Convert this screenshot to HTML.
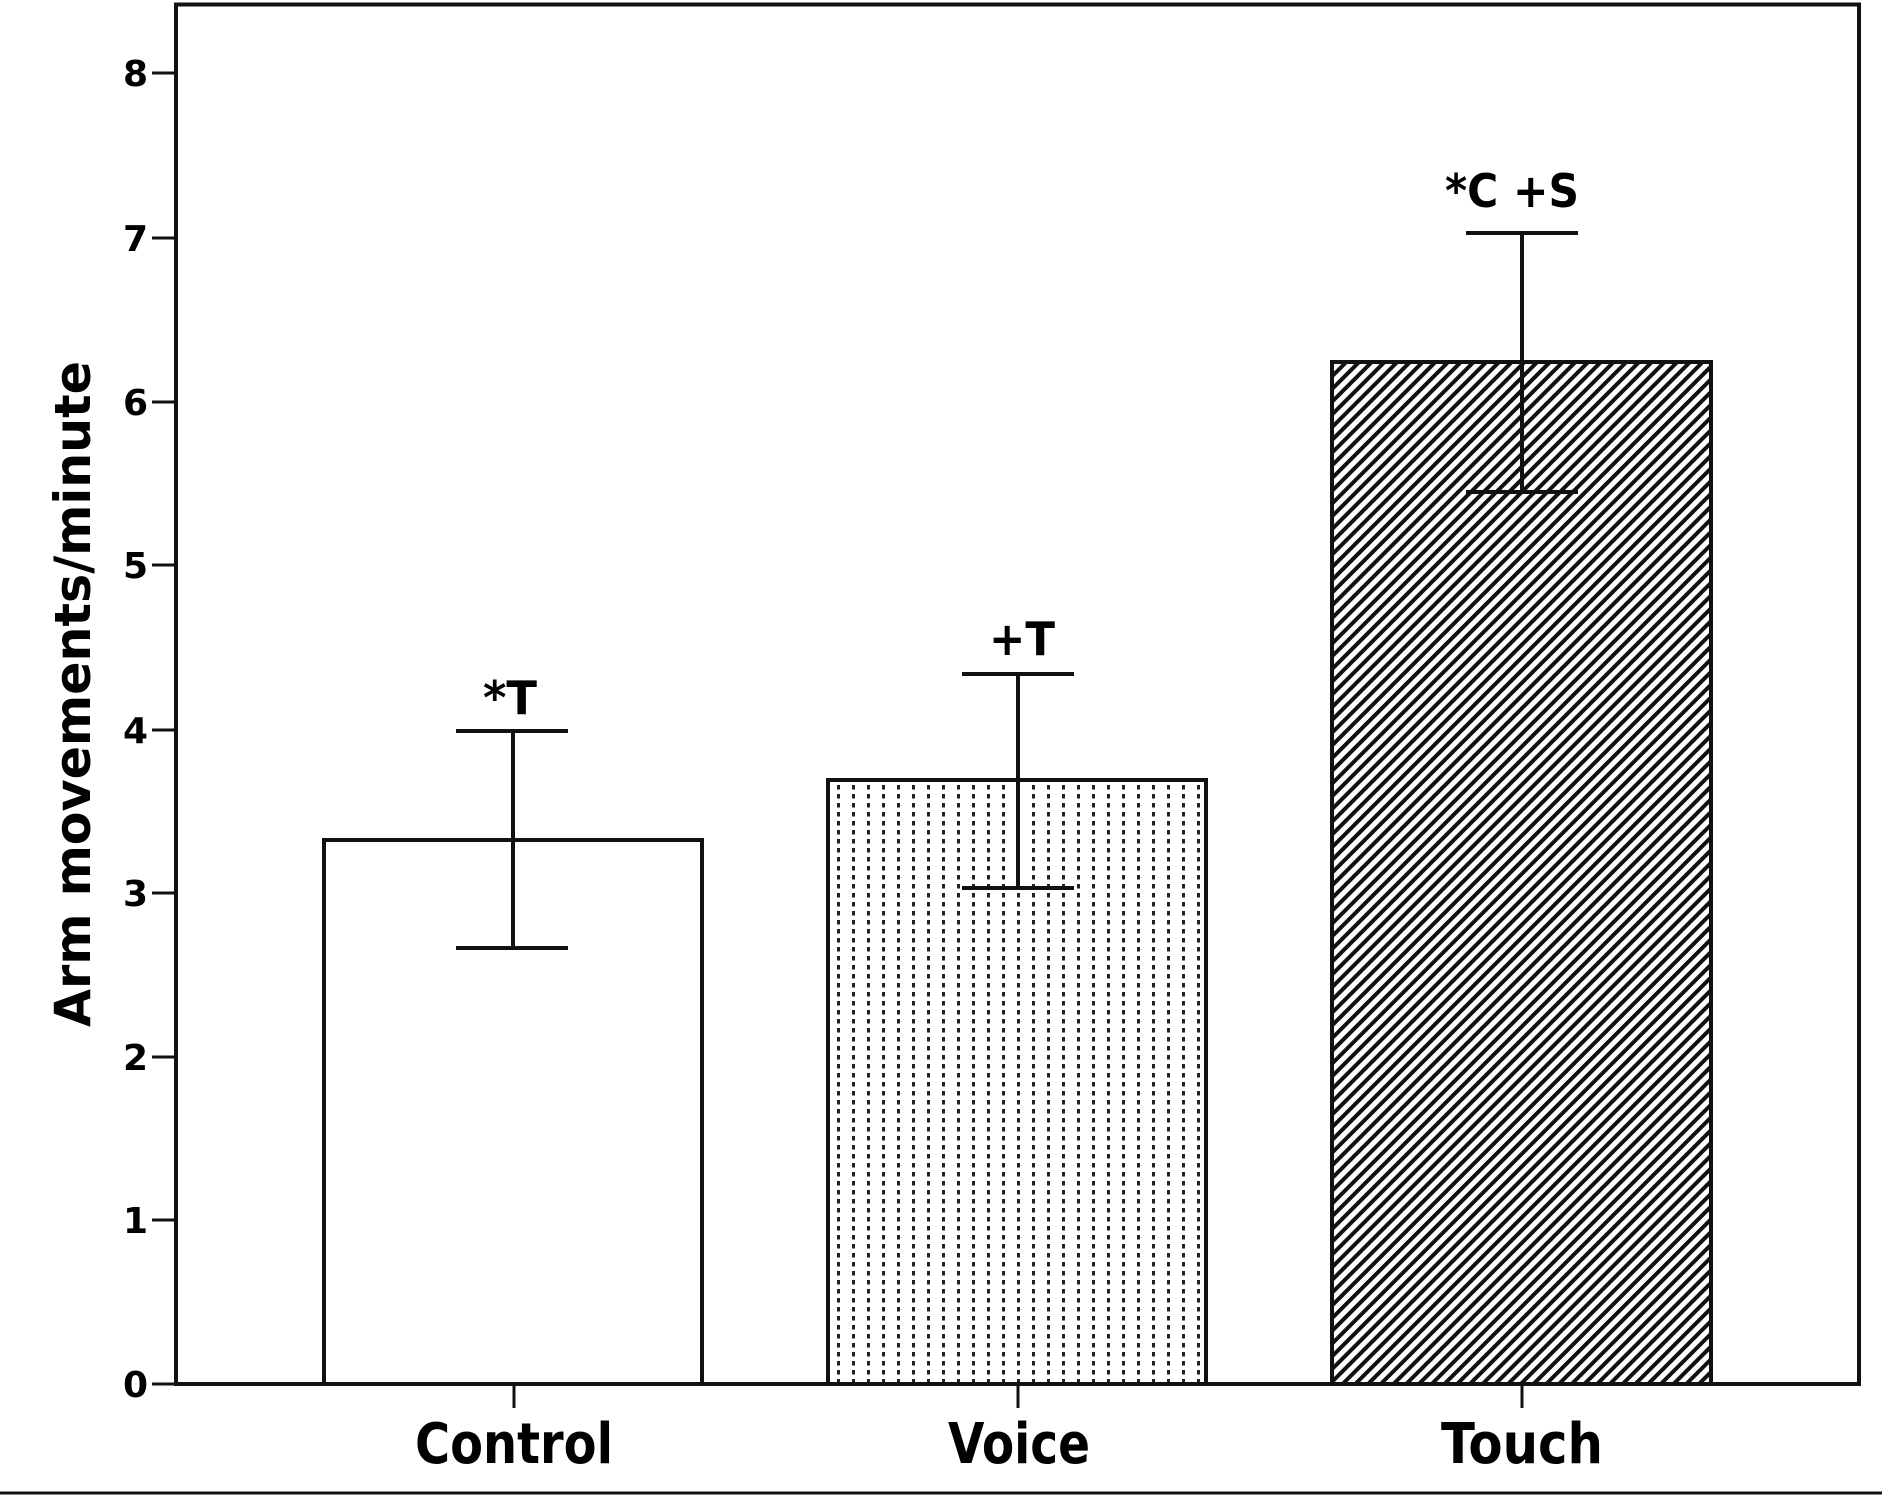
<!DOCTYPE html>
<html><head><meta charset="utf-8"><style>
html,body{margin:0;padding:0;background:#fff;}
svg{display:block;}
text{font-family:"DejaVu Sans","Liberation Sans",sans-serif;font-weight:bold;fill:#000;}
</style></head><body>
<svg width="1882" height="1497" viewBox="0 0 1882 1497" xmlns="http://www.w3.org/2000/svg">
<defs>
<pattern id="dots" patternUnits="userSpaceOnUse" width="15" height="9" x="836" y="0">
<rect x="1" y="2" width="3" height="4.5" fill="#222"/>
</pattern>
<pattern id="hatch" patternUnits="userSpaceOnUse" width="9" height="9" patternTransform="rotate(45)">
<rect x="0" y="0" width="4" height="9" fill="#111"/>
</pattern>
</defs>
<rect x="0" y="0" width="1882" height="1497" fill="#fff"/>
<rect x="176" y="4.5" width="1683" height="1379.5" fill="none" stroke="#111" stroke-width="4"/>
<line x1="0" y1="1493" x2="1882" y2="1493" stroke="#111" stroke-width="3"/>
<g stroke="#111" stroke-width="3">
<line x1="152" y1="73" x2="176" y2="73"/><line x1="152" y1="238" x2="176" y2="238"/>
<line x1="152" y1="402" x2="176" y2="402"/><line x1="152" y1="565" x2="176" y2="565"/>
<line x1="152" y1="730" x2="176" y2="730"/><line x1="152" y1="893" x2="176" y2="893"/>
<line x1="152" y1="1057" x2="176" y2="1057"/><line x1="152" y1="1220" x2="176" y2="1220"/>
<line x1="152" y1="1384" x2="176" y2="1384"/>
<line x1="514" y1="1384" x2="514" y2="1408"/><line x1="1018" y1="1384" x2="1018" y2="1408"/><line x1="1522" y1="1384" x2="1522" y2="1408"/>
</g>
<g font-size="36" text-anchor="end">
<text x="148" y="86">8</text><text x="148" y="251">7</text><text x="148" y="415">6</text>
<text x="148" y="578">5</text><text x="148" y="743">4</text><text x="148" y="906">3</text>
<text x="148" y="1070">2</text><text x="148" y="1233">1</text><text x="148" y="1397">0</text>
</g>
<text transform="translate(90,694) rotate(-90)" font-size="50" text-anchor="middle" textLength="666" lengthAdjust="spacingAndGlyphs">Arm movements/minute</text>
<rect x="324" y="840" width="378" height="544" fill="#fff" stroke="#111" stroke-width="4"/>
<rect x="828" y="780" width="378" height="604" fill="url(#dots)" stroke="#111" stroke-width="4"/>
<rect x="1332" y="362" width="379" height="1022" fill="url(#hatch)" stroke="#111" stroke-width="4"/>
<g stroke="#111" stroke-width="4">
<line x1="513" y1="731" x2="513" y2="948"/><line x1="456" y1="731" x2="568" y2="731"/><line x1="456" y1="948" x2="568" y2="948"/>
<line x1="1018" y1="674" x2="1018" y2="888"/><line x1="962" y1="674" x2="1074" y2="674"/><line x1="962" y1="888" x2="1074" y2="888"/>
<line x1="1522" y1="233" x2="1522" y2="492"/><line x1="1466" y1="233" x2="1578" y2="233"/><line x1="1466" y1="492" x2="1578" y2="492"/>
</g>
<g font-size="46" text-anchor="middle">
<text x="510" y="714" textLength="54" lengthAdjust="spacingAndGlyphs">*T</text>
<text x="1022" y="655" textLength="66" lengthAdjust="spacingAndGlyphs">+T</text>
<text x="1512" y="207" textLength="134" lengthAdjust="spacingAndGlyphs">*C +S</text>
</g>
<g font-size="56" text-anchor="middle">
<text x="514" y="1463" textLength="198" lengthAdjust="spacingAndGlyphs">Control</text>
<text x="1019" y="1463" textLength="142" lengthAdjust="spacingAndGlyphs">Voice</text>
<text x="1522" y="1463" textLength="162" lengthAdjust="spacingAndGlyphs">Touch</text>
</g>
</svg>
</body></html>
